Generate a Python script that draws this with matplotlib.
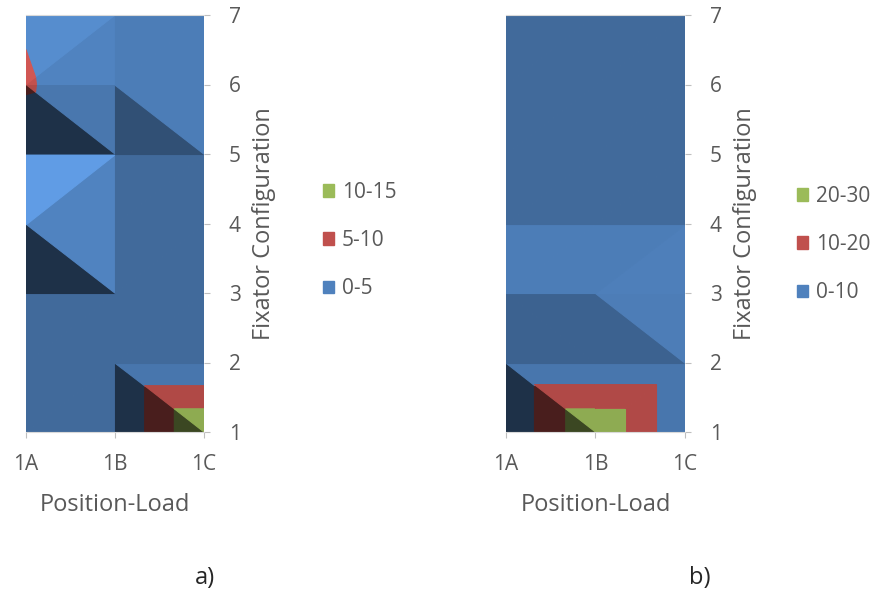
"""Top-view surface (contour) charts: deformation by position-load and fixator configuration."""

import matplotlib

matplotlib.use("Agg")
import matplotlib.pyplot as plt
import numpy as np
from matplotlib.collections import PolyCollection
from matplotlib.patches import Patch

plt.rcParams["font.family"] = ["Open Sans", "DejaVu Sans"]

POSITIONS = ["1A", "1B", "1C"]
CONFIGS = [1, 2, 3, 4, 5, 6, 7]

# rows: fixator configuration 1..7, columns: 1A, 1B, 1C
Z_A = np.array([
    [0.0, 0.0, 15.0],
    [0.0, 0.0, 0.0],
    [0.0, 0.0, 0.0],
    [3.0, 0.0, 0.0],
    [1.5, 0.0, 0.0],
    [5.6, 0.5, 0.0],
    [4.4, 0.0, 0.0],
])
LEVELS_A = [0, 5, 10, 15]
LABELS_A = ["0-5", "5-10", "10-15"]

Z_B = np.array([
    [0.9, 29.5, 0.9],
    [0.9, 0.9, 0.9],
    [1.2, 1.2, 0.6],
    [0.2, 0.2, 0.2],
    [0.2, 0.2, 0.2],
    [0.2, 0.2, 0.2],
    [0.2, 0.2, 0.2],
])
LEVELS_B = [0, 10, 20, 30]
LABELS_B = ["0-10", "10-20", "20-30"]

BAND_COLORS = ["#4F81BD", "#C0504D", "#9BBB59"]
LIGHT = np.array([0.6, 0.6, 0.53])
LIGHT = LIGHT / np.linalg.norm(LIGHT)
AMBIENT, DIFFUSE = 0.38, 0.83
TEXT = "#595959"
GRID = "#BFBFBF"


def _clip(poly, level, keep_above):
    out = []
    n = len(poly)
    for k in range(n):
        p, q = poly[k], poly[(k + 1) % n]
        dp = p[2] - level if keep_above else level - p[2]
        dq = q[2] - level if keep_above else level - q[2]
        if dp >= 0:
            out.append(p)
        if dp * dq < 0:
            out.append(p + dp / (dp - dq) * (q - p))
    return out


def _triangles(z):
    """Split each grid cell along the diagonal through its highest corner."""
    tris = []
    ny, nx = z.shape
    for j in range(ny - 1):
        for i in range(nx - 1):
            bl = np.array([i, CONFIGS[j], z[j, i]])
            br = np.array([i + 1, CONFIGS[j], z[j, i + 1]])
            tl = np.array([i, CONFIGS[j + 1], z[j + 1, i]])
            tr = np.array([i + 1, CONFIGS[j + 1], z[j + 1, i + 1]])
            top = int(np.argmax([bl[2], br[2], tl[2], tr[2]]))
            if top in (1, 2):
                tris += [[tl, bl, br], [tl, tr, br]]
            else:
                tris += [[bl, br, tr], [bl, tl, tr]]
    return tris


def _shade(tri, relief):
    a, b, c = [np.array([p[0], p[1], p[2] * relief]) for p in tri]
    n = np.cross(b - a, c - a)
    if n[2] < 0:
        n = -n
    n = n / np.linalg.norm(n)
    return AMBIENT + DIFFUSE * max(0.0, float(n @ LIGHT))


def _surface(ax, z, levels, labels, legend_xy):
    relief = 11.25 / levels[-1]
    polys, colors = [], []
    for tri in _triangles(z):
        f = _shade(tri, relief)
        for k in range(len(levels) - 1):
            poly = list(tri)
            if k > 0:
                poly = _clip(poly, levels[k], True)
            if poly and k < len(levels) - 2:
                poly = _clip(poly, levels[k + 1], False)
            if len(poly) < 3:
                continue
            base = np.array(matplotlib.colors.to_rgb(BAND_COLORS[k]))
            polys.append([(p[0], p[1]) for p in poly])
            colors.append(np.clip(base * f, 0, 1))
    ax.add_collection(PolyCollection(polys, facecolors=colors, edgecolors=colors, linewidths=0.8))

    ax.set_xlim(0, len(POSITIONS) - 1)
    ax.set_ylim(CONFIGS[0], CONFIGS[-1])
    ax.set_xticks(range(len(POSITIONS)))
    ax.set_xticklabels(POSITIONS)
    ax.set_yticks(CONFIGS)
    ax.yaxis.tick_right()
    ax.yaxis.set_label_position("right")
    ax.tick_params(colors=GRID, labelcolor=TEXT, labelsize=15, length=4)
    ax.tick_params(axis="x", pad=12)
    ax.tick_params(axis="y", pad=14)
    for side in ["left", "right"]:
        ax.spines[side].set_visible(False)
    for side in ["top", "bottom"]:
        ax.spines[side].set_color("#D9D9D9")
    ax.set_xlabel("Position-Load", color=TEXT, fontsize=17, labelpad=13)
    ax.set_ylabel("Fixator Configuration", color=TEXT, fontsize=17, labelpad=8)

    handles = [Patch(color=c) for c in BAND_COLORS][::-1]
    ax.figure.legend(handles, labels[::-1], loc="upper left", bbox_to_anchor=legend_xy,
                     frameon=False, fontsize=15, labelcolor=TEXT, handlelength=0.55,
                     handleheight=0.55, handletextpad=0.35, labelspacing=1.3,
                     borderaxespad=0, borderpad=0)


fig = plt.figure(figsize=(8.78, 6.09), dpi=100)
ax_a = fig.add_axes([26 / 878, 1 - 432 / 609, 178 / 878, 417 / 609])
ax_b = fig.add_axes([506 / 878, 1 - 432 / 609, 179 / 878, 417 / 609])
_surface(ax_a, Z_A, LEVELS_A, LABELS_A, (323 / 878, 1 - 182 / 609))
_surface(ax_b, Z_B, LEVELS_B, LABELS_B, (797 / 878, 1 - 186 / 609))
fig.text(205 / 878, 1 - 578 / 609, "a)", ha="center", va="center", fontsize=17, color="#262626")
fig.text(700 / 878, 1 - 578 / 609, "b)", ha="center", va="center", fontsize=17, color="#262626")

fig.savefig("out.png", dpi=100)
